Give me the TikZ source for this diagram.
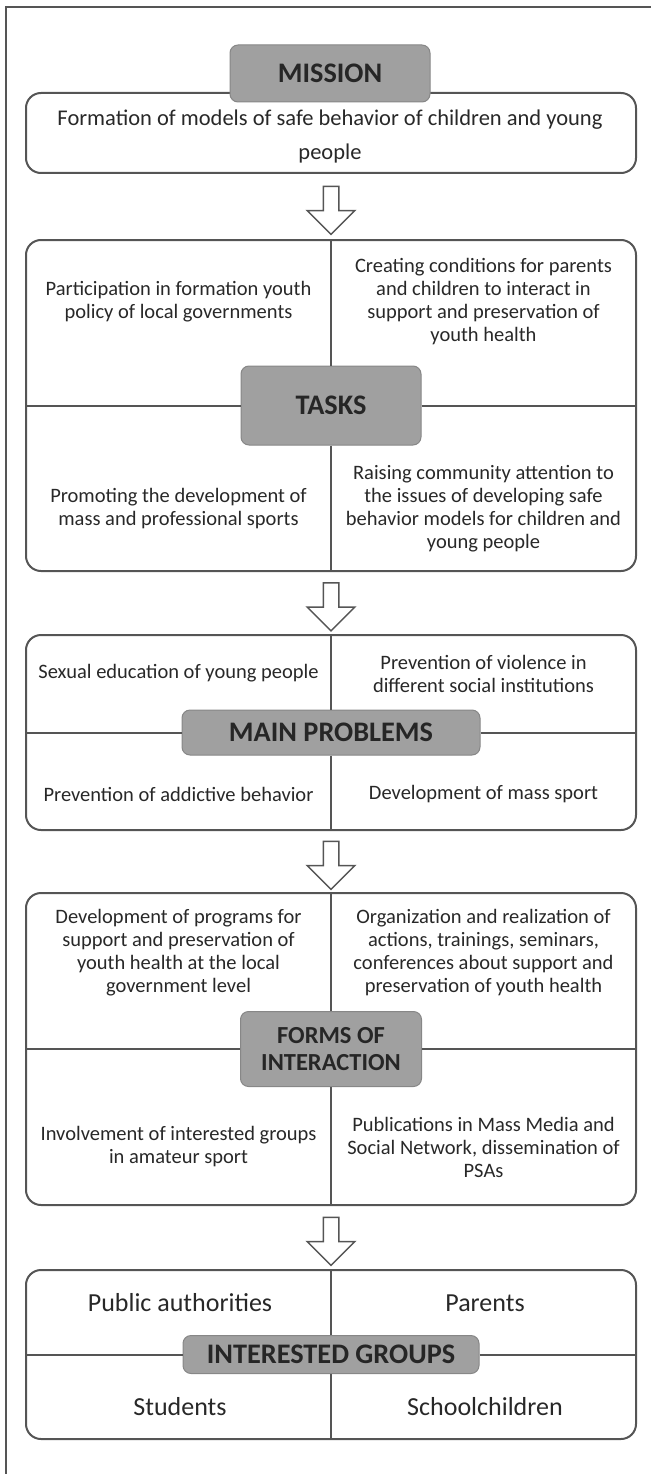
\documentclass[tikz,border=0pt]{standalone}
\usepackage{fontspec}
\setmainfont{Carlito}
\usetikzlibrary{shapes.arrows,calc}

\definecolor{boxline}{RGB}{85,85,85}
\definecolor{tagfill}{RGB}{160,160,160}
\definecolor{tagline}{RGB}{135,135,135}
\definecolor{txtgray}{RGB}{40,40,40}

\tikzset{
  panel/.style={draw=boxline, line width=2pt, rounded corners=15pt, minimum width=610pt, inner sep=0pt},
  tag/.style={draw=tagline, line width=1pt, fill=tagfill, rounded corners=8pt, inner sep=0pt, text=black!85, font=\fontsize{28.3}{30}\selectfont\bfseries, align=center},
  item/.style={text=txtgray, font=\fontsize{20.5}{23}\selectfont, align=center, inner sep=0pt},
  bigitem/.style={item, font=\fontsize{26}{30}\selectfont},
  divider/.style={draw=boxline, line width=2pt},
  downarrow/.style={single arrow, shape border rotate=270, draw=boxline, fill=white, line width=1.5pt, minimum height=48pt, minimum width=46pt, single arrow head extend=16pt, single arrow head indent=0pt, inner sep=7pt},
  frameline/.style={draw=boxline, line width=1.5pt}
}

\begin{document}
\begin{tikzpicture}[x=1pt,y=1pt,yscale=-1,xscale=1]
\useasboundingbox (0,0) rectangle (651,1474);

%Shape: outer frame
\draw[frameline] (6,1474) -- (6,7) -- (651,7);

%Shape: Mission
\node[panel, minimum height=80pt] (mission) at (331,133) {};
\node[tag, minimum width=200pt, minimum height=57pt] (missionlbl) at (330,73.5) {MISSION};
% Text Node
\node[item, font=\fontsize{22.5}{34}\selectfont] (missiontxt) at (330,137) {Formation of models of safe behavior of children and young\\people};

%Shape: Tasks
\node[panel, minimum height=331pt] (tasks) at (331,405.5) {};
\node[tag, minimum width=180pt, minimum height=79pt] (taskslbl) at (331,405.5) {TASKS};
\draw[divider] (tasks.north) -- (taskslbl.north);
\draw[divider] (taskslbl.south) -- (tasks.south);
\draw[divider] (tasks.west) -- (taskslbl.west);
\draw[divider] (taskslbl.east) -- (tasks.east);
% Text Node
\node[item] (task1) at (178.5,302) {Participation in formation youth\\policy of local governments};
% Text Node
\node[item] (task2) at (483.5,302) {Creating conditions for parents\\and children to interact in\\support and preservation of\\youth health};
% Text Node
\node[item] (task3) at (178.5,508.5) {Promoting the development of\\mass and professional sports};
% Text Node
\node[item] (task4) at (483.5,508.5) {Raising community attention to\\the issues of developing safe\\behavior models for children and\\young people};

%Shape: Main problems
\node[panel, minimum height=195pt] (problems) at (331,732.5) {};
\node[tag, minimum width=298pt, minimum height=45pt] (problemslbl) at (331,732.5) {MAIN PROBLEMS};
\draw[divider] (problems.north) -- (problemslbl.north);
\draw[divider] (problemslbl.south) -- (problems.south);
\draw[divider] (problems.west) -- (problemslbl.west);
\draw[divider] (problemslbl.east) -- (problems.east);
% Text Node
\node[item] (prob1) at (178.5,673) {Sexual education of young people};
% Text Node
\node[item] (prob2) at (483.5,673.5) {Prevention of violence in\\different social institutions};
% Text Node
\node[item] (prob3) at (178.5,794) {Prevention of addictive behavior};
% Text Node
\node[item] (prob4) at (483.5,794) {Development of mass sport};

%Shape: Forms of interaction
\node[panel, minimum height=312pt] (forms) at (331,1049) {};
\node[tag, minimum width=181pt, minimum height=75pt, font=\fontsize{24.5}{26.5}\selectfont\bfseries] (formslbl) at (331,1049) {FORMS OF\\INTERACTION};
\draw[divider] (forms.north) -- (formslbl.north);
\draw[divider] (formslbl.south) -- (forms.south);
\draw[divider] (forms.west) -- (formslbl.west);
\draw[divider] (formslbl.east) -- (forms.east);
% Text Node
\node[item] (form1) at (178.5,953) {Development of programs for\\support and preservation of\\youth health at the local\\government level};
% Text Node
\node[item] (form2) at (483.5,953) {Organization and realization of\\actions, trainings, seminars,\\conferences about support and\\preservation of youth health};
% Text Node
\node[item] (form3) at (178.5,1147) {Involvement of interested groups\\in amateur sport};
% Text Node
\node[item] (form4) at (483.5,1147) {Publications in Mass Media and\\Social Network, dissemination of\\PSAs};

%Shape: Interested groups
\node[panel, minimum height=169pt] (groups) at (331,1354.5) {};
\node[tag, minimum width=296pt, minimum height=38pt] (groupslbl) at (331,1354.5) {INTERESTED GROUPS};
\draw[divider] (groups.north) -- (groupslbl.north);
\draw[divider] (groupslbl.south) -- (groups.south);
\draw[divider] (groups.west) -- (groupslbl.west);
\draw[divider] (groupslbl.east) -- (groups.east);
% Text Node
\node[bigitem] (group1) at (180,1303) {Public authorities};
% Text Node
\node[bigitem] (group2) at (485,1303) {Parents};
% Text Node
\node[bigitem] (group3) at (180,1406.5) {Students};
% Text Node
\node[bigitem] (group4) at (485,1406.5) {Schoolchildren};

%Shape: arrows between the blocks
\node[downarrow] (arr1) at ($(mission.south)!0.5!(tasks.north)$) {};
\node[downarrow] (arr2) at ($(tasks.south)!0.5!(problems.north)$) {};
\node[downarrow] (arr3) at ($(problems.south)!0.5!(forms.north)$) {};
\node[downarrow] (arr4) at ($(forms.south)!0.5!(groups.north)$) {};

\end{tikzpicture}
\end{document}
